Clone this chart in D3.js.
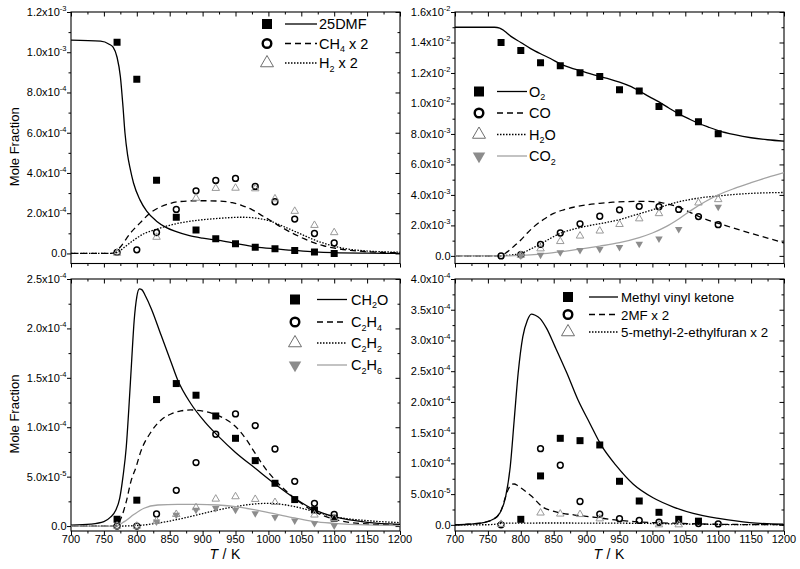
<!DOCTYPE html>
<html><head><meta charset="utf-8">
<script src="https://cdn.jsdelivr.net/npm/d3@7"></script>
<style>
body{margin:0;background:#fff}
svg{display:block;font-family:"Liberation Sans",Arial,Helvetica,sans-serif}
</style>
</head><body>
<script>
// ---------- shared ----------
const tempTicks = [700, 750, 800, 850, 900, 950, 1000, 1050, 1100, 1150, 1200];
const tempMinor = [725, 775, 825, 875, 925, 975, 1025, 1075, 1125, 1175];
const expT = [770, 800, 830, 860, 890, 920, 950, 980, 1010, 1040, 1070, 1100];

// ---------- panel A (values in units of 1e-4) ----------
const yMajorA = [0, 2, 4, 6, 8, 10, 12];
const yMinorA = [1, 3, 5, 7, 9, 11];
const yLabelsA = [["0.0",""],["2.0x10","-4"],["4.0x10","-4"],["6.0x10","-4"],["8.0x10","-4"],["1.0x10","-3"],["1.2x10","-3"]];
const dmfExp = [10.50, 8.66, 3.64, 1.80, 1.16, 0.73, 0.48, 0.31, 0.23, 0.15, 0.07, 0.00];
const ch4Exp = [0.05, 0.18, 1.04, 2.19, 3.11, 3.63, 3.73, 3.33, 2.57, 1.71, 0.99, 0.52];
const h2Exp  = [0.02, null, 0.81, null, 2.75, 3.24, 3.25, 3.22, 2.72, 2.10, 1.40, 1.04];
const dmfModel = [[700,10.6],[745,10.55],[758,10.4],[764,10.25],[770,9.75],[775,8.8],[779,7.3],[782,6.0],[786,4.9],[790,4.2],[795,3.5],[805,2.65],[815,2.1],[830,1.6],[845,1.28],[860,1.08],[880,0.88],[900,0.76],[925,0.65],[950,0.5],[980,0.33],[1010,0.23],[1040,0.15],[1070,0.08],[1100,0.04],[1150,0.015],[1200,0.005]];
const ch4Model = [[700,0],[760,0],[767,0.05],[775,0.32],[790,1.0],[805,1.52],[820,2.0],[835,2.3],[850,2.48],[866,2.58],[896,2.62],[927,2.6],[945,2.52],[960,2.38],[975,2.18],[992,1.85],[1005,1.6],[1020,1.3],[1040,0.95],[1055,0.72],[1070,0.52],[1085,0.37],[1100,0.27],[1125,0.15],[1150,0.09],[1175,0.05],[1200,0.03]];
const h2Model = [[700,0],[765,0],[772,0.08],[782,0.33],[797,0.7],[812,1.0],[828,1.18],[850,1.4],[866,1.52],[896,1.66],[927,1.75],[960,1.8],[980,1.76],[995,1.68],[1005,1.58],[1020,1.38],[1040,1.1],[1055,0.88],[1070,0.67],[1085,0.5],[1100,0.36],[1125,0.2],[1150,0.12],[1175,0.08],[1200,0.06]];

// ---------- panel B (units of 1e-3) ----------
const yMajorB = [0, 2, 4, 6, 8, 10, 12, 14, 16];
const yMinorB = [1, 3, 5, 7, 9, 11, 13, 15];
const yLabelsB = [["0.0",""],["2.0x10","-3"],["4.0x10","-3"],["6.0x10","-3"],["8.0x10","-3"],["1.0x10","-2"],["1.2x10","-2"],["1.4x10","-2"],["1.6x10","-2"]];
const o2Exp  = [14.0, 13.48, 12.67, 12.47, 12.01, 11.77, 10.90, 10.81, 9.80, 9.39, 8.80, 8.01];
const coExp  = [0.0, 0.08, 0.75, 1.5, 2.1, 2.6, 3.02, 3.25, 3.23, 3.05, 2.58, 2.05];
const h2oExp = [null, 0.05, 0.47, 0.95, 1.31, 1.64, 2.07, 2.44, 2.78, null, 3.48, 3.7];
const co2Exp = [null, 0.02, 0.07, 0.22, 0.37, 0.44, 0.57, 0.79, 1.13, 1.75, null, 3.22];
const o2Model = [[700,15.0],[760,15.0],[768,14.95],[775,14.75],[785,14.4],[800,14.0],[815,13.6],[830,13.26],[845,12.95],[860,12.6],[875,12.35],[890,12.15],[905,11.95],[920,11.77],[935,11.6],[950,11.4],[965,11.15],[980,10.82],[995,10.45],[1010,10.1],[1025,9.7],[1040,9.32],[1055,9.0],[1070,8.7],[1085,8.45],[1100,8.22],[1125,7.95],[1150,7.75],[1175,7.62],[1200,7.53]];
const coModel = [[700,0],[765,0],[772,0.05],[780,0.28],[790,0.65],[800,1.04],[810,1.5],[820,1.92],[835,2.4],[850,2.79],[865,3.02],[880,3.19],[900,3.35],[920,3.45],[940,3.52],[960,3.56],[980,3.58],[1000,3.56],[1015,3.48],[1030,3.33],[1045,3.1],[1060,2.8],[1075,2.5],[1090,2.27],[1100,2.14],[1125,1.8],[1150,1.48],[1175,1.17],[1200,0.85]];
const h2oModel = [[700,0],[768,0],[780,0.04],[790,0.08],[800,0.15],[815,0.45],[830,0.78],[845,1.15],[860,1.48],[880,1.75],[900,1.95],[925,2.15],[950,2.38],[975,2.7],[1000,3.02],[1020,3.3],[1040,3.55],[1060,3.72],[1080,3.85],[1100,3.93],[1125,4.03],[1150,4.1],[1175,4.14],[1200,4.16]];
const co2Model = [[700,0],[770,0],[800,0.03],[830,0.12],[860,0.27],[890,0.44],[920,0.64],[950,0.87],[980,1.2],[1000,1.5],[1020,1.9],[1040,2.42],[1060,3.02],[1080,3.55],[1100,4.0],[1125,4.43],[1150,4.8],[1175,5.15],[1200,5.46]];

// ---------- panel C (units of 1e-5) ----------
const yMajorC = [0, 5, 10, 15, 20, 25];
const yMinorC = [2.5, 7.5, 12.5, 17.5, 22.5];
const yLabelsC = [["0.0",""],["5.0x10","-5"],["1.0x10","-4"],["1.5x10","-4"],["2.0x10","-4"],["2.5x10","-4"]];
const ch2oExp = [0.69, 2.62, 12.8, 14.42, 13.24, 11.14, 8.88, 6.62, 4.33, 2.68, 1.63, 0.8];
const c2h4Exp = [0.0, 0.0, 1.22, 3.62, 6.42, 9.29, 11.35, 10.17, 7.8, 4.53, 2.3, 1.19];
const c2h2Exp = [0.0, 0.0, 0.5, 1.19, 1.87, 2.74, 2.98, 2.71, 2.4, null, 1.13, 0.79];
const c2h6Exp = [null, null, 0.45, 1.12, 1.63, 1.8, 1.63, 1.29, 0.89, 0.55, 0.28, 0.04];
const ch2oModel = [[700,0.1],[730,0.2],[750,0.45],[760,0.9],[768,1.6],[774,2.8],[779,5.0],[784,8.0],[788,12],[792,16.5],[796,20.8],[800,23.2],[804,24.0],[808,23.9],[813,23.3],[822,22.0],[837,19.3],[852,16.6],[862,14.8],[882,12.4],[903,10.57],[923,9.15],[950,7.45],[980,5.85],[1010,4.26],[1040,2.81],[1070,1.63],[1100,0.95],[1150,0.38],[1200,0.18]];
const c2h4Model = [[700,0],[765,0],[770,0.1],[776,0.79],[784,2.47],[791,4.5],[799,6.0],[806,7.53],[822,9.56],[837,10.74],[852,11.34],[867,11.65],[882,11.75],[903,11.6],[923,11.2],[940,10.6],[950,10.07],[967,8.7],[980,7.36],[997,5.68],[1010,4.67],[1040,2.81],[1070,1.46],[1100,0.69],[1150,0.21],[1200,0.1]];
const c2h2Model = [[700,0],[770,0],[800,0.05],[830,0.28],[860,0.64],[890,1.1],[920,1.58],[950,1.97],[980,2.24],[1000,2.3],[1015,2.24],[1040,1.97],[1070,1.46],[1100,0.95],[1150,0.55],[1200,0.35]];
const c2h6Model = [[700,0],[768,0],[781,0.45],[796,1.19],[811,1.8],[832,2.13],[862,2.2],[893,2.2],[923,2.13],[950,1.97],[980,1.63],[1010,1.23],[1040,0.82],[1070,0.45],[1100,0.28],[1150,0.11],[1200,0.04]];

// ---------- panel D (units of 1e-5) ----------
const yMajorD = [0, 5, 10, 15, 20, 25, 30, 35, 40];
const yMinorD = [2.5, 7.5, 12.5, 17.5, 22.5, 27.5, 32.5, 37.5];
const yLabelsD = [["0.0",""],["5.0x10","-5"],["1.0x10","-4"],["1.5x10","-4"],["2.0x10","-4"],["2.5x10","-4"],["3.0x10","-4"],["3.5x10","-4"],["4.0x10","-4"]];
const mvkExp  = [null, 0.9, 7.96, 14.08, 13.7, 13.0, 7.09, 3.88, 2.04, 0.9, 0.6, null];
const mf2Exp  = [0.0, null, 12.4, 9.7, 3.8, 1.75, 1.0, 0.72, 0.42, null, 0.2, 0.15];
const memfExp = [0.1, null, 1.95, 1.78, 1.7, 1.0, null, null, 0.03, 0.03, null, null];
const mvkModel = [[700,0],[720,0.1],[743,0.36],[758,0.9],[768,1.9],[777,4.6],[784,9.5],[790,17.1],[796,24.7],[803,30.6],[810,33.3],[816,34.3],[822,34.1],[829,33.6],[839,32],[852,29],[870,24.7],[887,20.3],[905,16.5],[922,13],[946,9.5],[971,6.6],[1001,4.4],[1032,2.9],[1062,1.85],[1103,1.0],[1148,0.36],[1199,0.1]];
const mf2Model = [[700,0],[720,0.1],[743,0.36],[758,0.9],[766,1.6],[771,2.6],[776,4.3],[781,5.8],[786,6.6],[790,6.65],[795,6.4],[801,5.95],[817,4.6],[832,3.0],[852,2.15],[882,1.6],[913,1.23],[943,0.8],[973,0.52],[1004,0.36],[1054,0.2],[1105,0.09],[1150,0.04],[1200,0.02]];
const memfModel = [[700,0],[750,0.02],[762,0.12],[775,0.28],[850,0.3],[950,0.27],[1000,0.22],[1050,0.13],[1100,0.06],[1150,0.03],[1200,0.02]];

// ---------- legends (label segments: odd index = subscript) ----------
const legA = [["25DMF"], ["CH","4"," x 2"], ["H","2"," x 2"]];
const legB = [["O","2"], ["CO"], ["H","2","O"], ["CO","2"]];
const legC = [["CH","2","O"], ["C","2","H","4"], ["C","2","H","2"], ["C","2","H","6"]];
const legD = [["Methyl vinyl ketone"], ["2MF x 2"], ["5-methyl-2-ethylfuran x 2"]];

// ---------- panel layout ----------
const panels = [
  {left:71, right:400, top:12, bottom:263.5, yDom:[-0.5,12], yMajor:yMajorA, yMinor:yMinorA, yLabels:yLabelsA, showX:false, title:true,
   series:[{exp:dmfExp, model:dmfModel, mk:"square", ln:"solid"},{exp:ch4Exp, model:ch4Model, mk:"circle", ln:"dash"},{exp:h2Exp, model:h2Model, mk:"tri", ln:"dot"}],
   legend:{labels:legA, rows:[24,43.5,63], mx:267, l0:285, l1:317, tx:319, fs:14.5}},
  {left:455, right:784, top:12, bottom:263.5, yDom:[-0.5,16], yMajor:yMajorB, yMinor:yMinorB, yLabels:yLabelsB, showX:false, title:false,
   series:[{exp:o2Exp, model:o2Model, mk:"square", ln:"solid"},{exp:coExp, model:coModel, mk:"circle", ln:"dash"},{exp:h2oExp, model:h2oModel, mk:"tri", ln:"dot"},{exp:co2Exp, model:co2Model, mk:"invtri", ln:"gray"}],
   legend:{labels:legB, rows:[91.5,113,134.5,156], mx:479, l0:497, l1:527, tx:529, fs:14.5}},
  {left:71, right:400, top:279, bottom:531, yDom:[-0.5,25], yMajor:yMajorC, yMinor:yMinorC, yLabels:yLabelsC, showX:true, title:true,
   series:[{exp:ch2oExp, model:ch2oModel, mk:"square", ln:"solid"},{exp:c2h4Exp, model:c2h4Model, mk:"circle", ln:"dash"},{exp:c2h2Exp, model:c2h2Model, mk:"tri", ln:"dot"},{exp:c2h6Exp, model:c2h6Model, mk:"invtri", ln:"gray"}],
   legend:{labels:legC, rows:[299.5,322,343,365], mx:295, l0:317, l1:347, tx:351, fs:14.5}},
  {left:455, right:784, top:279, bottom:531, yDom:[-1,40], yMajor:yMajorD, yMinor:yMinorD, yLabels:yLabelsD, showX:true, title:false,
   series:[{exp:mvkExp, model:mvkModel, mk:"square", ln:"solid"},{exp:mf2Exp, model:mf2Model, mk:"circle", ln:"dash"},{exp:memfExp, model:memfModel, mk:"tri", ln:"dot"}],
   legend:{labels:legD, rows:[297,314.5,332], mx:568, l0:589, l1:618, tx:621, fs:13.3}}
];

const lineStyle = {
  solid:{stroke:"#000", dash:null},
  dash:{stroke:"#000", dash:"6,4"},
  dot:{stroke:"#000", dash:"1.5,1.5"},
  gray:{stroke:"#a3a3a3", dash:null}
};

const svg = d3.select("body").append("svg").attr("width",800).attr("height",569);
const defs = svg.append("defs");

function addMarker(g, type, cx, cy, big) {
  if (type === "square") {
    const s = big ? 10 : 7;
    g.append("path").attr("d", d3.symbol(d3.symbolSquare, s*s)()).attr("transform",`translate(${cx},${cy})`).attr("fill","#000");
  } else if (type === "circle") {
    g.append("circle").attr("cx",cx).attr("cy",cy).attr("r", big ? 4.3 : 2.9)
      .attr("fill","none").attr("stroke","#000").attr("stroke-width", big ? 2.4 : 1.5);
  } else if (type === "tri") {
    const s = big ? 13 : 7.5;
    g.append("path").attr("d", d3.symbol(d3.symbolTriangle, 0.433*s*s)()).attr("transform",`translate(${cx},${cy})`)
      .attr("fill","none").attr("stroke", big ? "#6e6e6e" : "#999").attr("stroke-width",1);
  } else if (type === "invtri") {
    const s = big ? 12.5 : 7.5;
    g.append("path").attr("d", d3.symbol(d3.symbolTriangle, 0.433*s*s)()).attr("transform",`translate(${cx},${cy}) rotate(180)`)
      .attr("fill","#8c8c8c");
  }
}

panels.forEach((p, pi) => {
  const x = d3.scaleLinear().domain([700,1200]).range([p.left,p.right]);
  const y = d3.scaleLinear().domain(p.yDom).range([p.bottom,p.top]);
  const g = svg.append("g");
  const clipId = "clip" + pi;
  defs.append("clipPath").attr("id",clipId).append("rect")
    .attr("x",p.left).attr("y",p.top).attr("width",p.right-p.left).attr("height",p.bottom-p.top);

  const noLab = () => "";
  const strip = s => { s.select(".domain").remove(); s.selectAll("line").attr("stroke","#000").attr("stroke-width",1); };
  g.append("g").attr("transform",`translate(0,${p.bottom})`).call(d3.axisBottom(x).tickValues(tempTicks).tickSize(4).tickFormat(noLab)).call(strip);
  g.append("g").attr("transform",`translate(0,${p.bottom})`).call(d3.axisBottom(x).tickValues(tempMinor).tickSize(2.5).tickFormat(noLab)).call(strip);
  g.append("g").attr("transform",`translate(0,${p.top})`).call(d3.axisTop(x).tickValues(tempTicks).tickSize(-4.5).tickFormat(noLab)).call(strip);
  g.append("g").attr("transform",`translate(0,${p.top})`).call(d3.axisTop(x).tickValues(tempMinor).tickSize(-2.5).tickFormat(noLab)).call(strip);
  g.append("g").attr("transform",`translate(${p.left},0)`).call(d3.axisLeft(y).tickValues(p.yMajor).tickSize(4).tickFormat(noLab)).call(strip);
  g.append("g").attr("transform",`translate(${p.left},0)`).call(d3.axisLeft(y).tickValues(p.yMinor).tickSize(2.5).tickFormat(noLab)).call(strip);
  g.append("g").attr("transform",`translate(${p.right},0)`).call(d3.axisRight(y).tickValues(p.yMajor).tickSize(-4.5).tickFormat(noLab)).call(strip);
  g.append("g").attr("transform",`translate(${p.right},0)`).call(d3.axisRight(y).tickValues(p.yMinor).tickSize(-2.5).tickFormat(noLab)).call(strip);

  g.append("rect").attr("x",p.left).attr("y",p.top).attr("width",p.right-p.left).attr("height",p.bottom-p.top)
    .attr("fill","none").attr("stroke","#000").attr("stroke-width",1.1);

  g.selectAll("text.yl").data(p.yMajor).join("text").attr("class","yl")
    .attr("x", p.left - 4.5).attr("y", d => y(d) + 4).attr("text-anchor","end").attr("font-size",11).attr("fill","#000")
    .each(function(d,i){
      const [m,e] = p.yLabels[i];
      const t = d3.select(this);
      t.append("tspan").text(m);
      if (e) t.append("tspan").attr("dy",-5).attr("font-size",7.5).text(e);
    });

  if (p.showX) {
    g.selectAll("text.xl").data(tempTicks).join("text").attr("class","xl")
      .attr("x", d => x(d)).attr("y", p.bottom + 12.3).attr("text-anchor","middle").attr("font-size",11).attr("fill","#000")
      .text(d => d);
    const xt = g.append("text").attr("x", (p.left+p.right)/2 - 26).attr("y", 558.5).attr("font-size",14).attr("fill","#000");
    xt.append("tspan").attr("font-style","italic").text("T");
    xt.append("tspan").attr("dx",4.5).text("/");
    xt.append("tspan").attr("dx",4.5).text("K");
  }
  if (p.title) {
    g.append("text").attr("transform",`translate(18.5,${(p.top+p.bottom)/2 + 9}) rotate(-90)`)
      .attr("text-anchor","middle").attr("font-size",13).attr("fill","#000").text("Mole Fraction");
  }

  const line = d3.line().x(d => x(d[0])).y(d => y(d[1])).curve(d3.curveMonotoneX);
  const plot = g.append("g").attr("clip-path",`url(#${clipId})`);
  p.series.forEach(s => {
    const st = lineStyle[s.ln];
    plot.append("path").datum(s.model).attr("d", line).attr("fill","none")
      .attr("stroke", st.stroke).attr("stroke-width",1.3).attr("stroke-dasharray", st.dash);
  });
  p.series.forEach(s => {
    const mg = plot.append("g");
    expT.forEach((t, i) => {
      const v = s.exp[i];
      if (v === null || v === undefined) return;
      addMarker(mg, s.mk, x(t), y(v), false);
    });
  });

  const L = p.legend;
  const lg = g.append("g");
  p.series.forEach((s, i) => {
    const ry = L.rows[i];
    addMarker(lg, s.mk, L.mx, ry, true);
    const st = lineStyle[s.ln];
    lg.append("line").attr("x1",L.l0).attr("x2",L.l1).attr("y1",ry).attr("y2",ry)
      .attr("stroke",st.stroke).attr("stroke-width",1.3).attr("stroke-dasharray",st.dash);
    const t = lg.append("text").attr("x",L.tx).attr("y",ry+5).attr("font-size",L.fs).attr("fill","#000");
    L.labels[i].forEach((seg, k) => {
      if (k % 2 === 1) t.append("tspan").attr("dy",3.5).attr("font-size",L.fs*0.62).text(seg);
      else t.append("tspan").attr("dy", k === 0 ? 0 : -3.5).text(seg);
    });
  });
});
</script>
</body></html>
